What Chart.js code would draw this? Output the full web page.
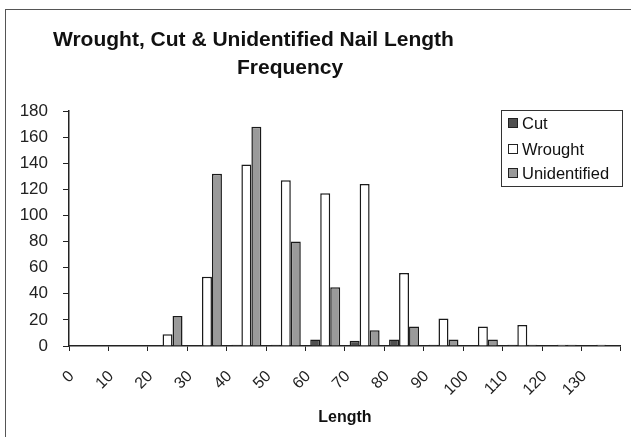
<!DOCTYPE html>
<html>
<head>
<meta charset="utf-8">
<script src="https://cdn.jsdelivr.net/npm/chart.js@4.4.0/dist/chart.umd.min.js"></script>
<style>
  html, body { margin: 0; padding: 0; background: #fff; overflow: hidden; }
  #wrap { position: relative; width: 631px; height: 437px; }
  #frame { position: absolute; left: 5px; top: 9px; width: 640px; height: 440px; border: 1.5px solid #555; box-sizing: border-box; }
  .title { position: absolute; font: bold 21px "Liberation Sans", Arial, sans-serif; color: #111; white-space: nowrap; }
  #legend { position: absolute; left: 501px; top: 110px; width: 122px; height: 77px; border: 1.5px solid #333; box-sizing: border-box; background: #fff; }
  .item { position: absolute; left: 6px; font: 16.5px "Liberation Sans", Arial, sans-serif; color: #111; white-space: nowrap; }
  .sw { display: inline-block; width: 8px; height: 8px; border: 1px solid #222; margin-right: 4px; vertical-align: 1px; }
</style>
</head>
<body>
<div id="wrap">
  <div id="frame"></div>
  <canvas id="nails" width="631" height="437"></canvas>
  <div class="title" style="left:53px; top:27px;">Wrought, Cut &amp; Unidentified Nail Length</div>
  <div class="title" style="left:237px; top:55px;">Frequency</div>
  <div id="legend"></div>
</div>
<script>
// nail length categories (mm)
const lengths = ["0", "10", "20", "30", "40", "50", "60", "70", "80", "90", "100", "110", "120", "130"];
const cutCounts = [0, 0, 0, 0, 1, 1, 5, 4, 5, 1, 0, 1, 0, 0];
const wroughtCounts = [0, 0, 9, 53, 139, 127, 117, 124, 56, 21, 15, 16, 1, 1];
const unidentifiedCounts = [0, 0, 23, 132, 168, 80, 45, 12, 15, 5, 5, 1, 1, 0];
const yTicks = [0, 20, 40, 60, 80, 100, 120, 140, 160, 180];

var nails = new Chart("nails", {
  type: "bar",
  data: {
    labels: lengths,
    datasets: [
      {
        label: "Cut",
        data: cutCounts,
        backgroundColor: "#505050",
        borderColor: "#1a1a1a",
        borderWidth: 1.5,
      },
      {
        label: "Wrought",
        data: wroughtCounts,
        backgroundColor: "#ffffff",
        borderColor: "#1a1a1a",
        borderWidth: 1.5,
      },
      {
        label: "Unidentified",
        data: unidentifiedCounts,
        backgroundColor: "#9a9a9a",
        borderColor: "#1a1a1a",
        borderWidth: 1.5,
      },
    ],
  },
  options: {
    responsive: false,
    animation: false,
    layout: { padding: { left: 0, right: 8, top: 111, bottom: 0 } },
    datasets: { bar: { categoryPercentage: 0.76, barPercentage: 1.0 } },
    plugins: {
      legend: { display: false },
      title: { display: false },
      tooltip: { enabled: false },
    },
    scales: {
      x: {
        grid: { display: true, drawOnChartArea: false, drawTicks: true, tickLength: 5, color: "#222", offset: true },
        border: { display: true, color: "#222", width: 1.5 },
        ticks: {
          minRotation: 45,
          maxRotation: 45,
          autoSkip: false,
          padding: 16,
          labelOffset: -17,
          color: "#222",
          font: { family: "'Liberation Sans', Arial, sans-serif", size: 16 },
        },
        title: {
          display: true,
          text: "Length",
          color: "#111",
          font: { family: "'Liberation Sans', Arial, sans-serif", size: 16, weight: "bold" },
          padding: { top: 4, bottom: 10 },
        },
        afterFit: function (scale) { scale.height = 91; },
      },
      y: {
        min: 0,
        max: 180,
        afterBuildTicks: function (scale) { scale.ticks = yTicks.map(function (v) { return { value: v }; }); },
        grid: { display: true, drawOnChartArea: false, drawTicks: true, tickLength: 6, color: "#222" },
        border: { display: true, color: "#222", width: 1.5 },
        ticks: {
          padding: 15,
          color: "#222",
          font: { family: "'Liberation Sans', Arial, sans-serif", size: 17 },
        },
        afterFit: function (scale) { scale.width = 69; },
      },
    },
  },
});

// legend box like the original
var legend = document.getElementById("legend");
var rows = [14, 40, 64];
nails.data.datasets.forEach(function (ds, i) {
  var item = document.createElement("div");
  item.className = "item";
  item.style.top = (rows[i] - 11) + "px";
  var sw = document.createElement("span");
  sw.className = "sw";
  sw.style.background = ds.backgroundColor;
  item.appendChild(sw);
  item.appendChild(document.createTextNode(ds.label));
  legend.appendChild(item);
});
</script>
</body>
</html>
